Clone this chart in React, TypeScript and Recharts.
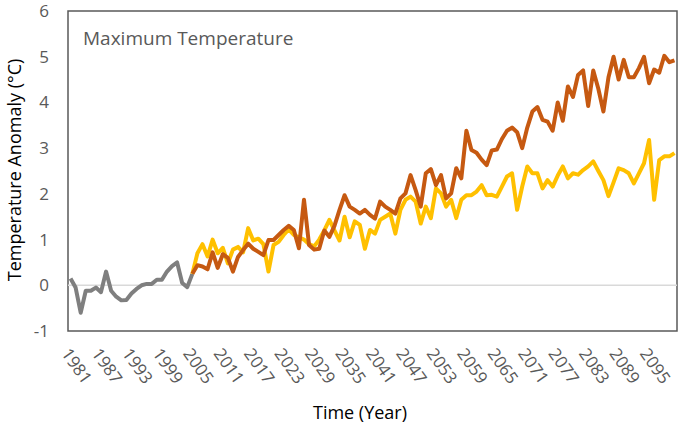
import React from "react";
import { LineChart, Line, XAxis, YAxis, ReferenceLine, ReferenceArea } from "recharts";

// ─── Data ────────────────────────────────────────────────────────────────────

const HIST_START = 1981;
const PROJ_START = 2005;

// observed / historical 1981–2005
const historical = [
  0.15, -0.05, -0.6, -0.12, -0.12, -0.05, -0.15, 0.3, -0.12, -0.25,
  -0.33, -0.32, -0.18, -0.08, 0.0, 0.03, 0.03, 0.12, 0.12, 0.3,
  0.42, 0.5, 0.05, -0.04, 0.25,
];

// high-emission projection 2005–2100 (dark orange)
const highScenario = [
  0.25, 0.44, 0.41, 0.35, 0.72, 0.38, 0.68, 0.6, 0.3, 0.62,
  0.77, 0.91, 0.8, 0.73, 0.66, 0.99, 0.99, 1.1, 1.21, 1.3,
  1.21, 0.81, 1.87, 0.88, 0.78, 0.8, 1.2, 1.06, 1.3, 1.65,
  1.97, 1.72, 1.65, 1.57, 1.65, 1.54, 1.46, 1.83, 1.72, 1.65,
  1.57, 1.9, 2.01, 2.41, 2.08, 1.72, 2.45, 2.54, 2.19, 2.41,
  1.9, 2.01, 2.56, 2.34, 3.38, 2.96, 2.9, 2.75, 2.63, 2.95,
  2.97, 3.2, 3.38, 3.45, 3.35, 3.0, 3.45, 3.8, 3.9, 3.62,
  3.58, 3.38, 4.0, 3.6, 4.35, 4.12, 4.6, 4.7, 3.92, 4.7,
  4.3, 3.8, 4.55, 5.0, 4.5, 4.93, 4.55, 4.55, 4.75, 5.0,
  4.42, 4.72, 4.65, 5.02, 4.88, 4.92,
];

// lower-emission projection 2005–2100 (yellow)
const lowScenario = [
  0.25, 0.7, 0.9, 0.63, 1.0, 0.7, 0.82, 0.48, 0.78, 0.84,
  0.72, 1.25, 0.98, 1.02, 0.9, 0.3, 0.88, 0.95, 1.1, 1.22,
  1.1, 1.05, 1.0, 0.9, 0.85, 1.0, 1.2, 1.43, 1.2, 0.98,
  1.5, 1.05, 1.4, 1.32, 0.8, 1.21, 1.13, 1.43, 1.5, 1.57,
  1.13, 1.65, 1.87, 1.94, 1.83, 1.35, 1.72, 1.47, 2.12, 2.01,
  1.72, 1.87, 1.47, 1.87, 1.97, 1.97, 2.05, 2.19, 1.97, 1.98,
  1.94, 2.16, 2.38, 2.45, 1.65, 2.16, 2.6, 2.45, 2.45, 2.12,
  2.3, 2.16, 2.4, 2.6, 2.34, 2.45, 2.42, 2.52, 2.6, 2.71,
  2.5, 2.3, 1.95, 2.25, 2.56, 2.52, 2.45, 2.23, 2.45, 2.67,
  3.18, 1.87, 2.74, 2.82, 2.82, 2.89,
];

const yearTicks = [
  1981, 1987, 1993, 1999, 2005, 2011, 2017, 2023, 2029, 2035,
  2041, 2047, 2053, 2059, 2065, 2071, 2077, 2083, 2089, 2095,
];
const yTicks = [-1, 0, 1, 2, 3, 4, 5, 6];

const data = Array.from({ length: 2100 - HIST_START + 1 }, (_, i) => {
  const year = HIST_START + i;
  const p = year - PROJ_START;
  return {
    year,
    hist: i < historical.length ? historical[i] : null,
    high: p >= 0 ? highScenario[p] : null,
    low: p >= 0 ? lowScenario[p] : null,
  };
});

const FONT = "'Open Sans', 'Noto Sans', sans-serif";
const TEXT = "#595959";

function YearTick({ x, y, payload }: any) {
  return (
    <g transform={`translate(${x - 5},${y + 19}) rotate(55)`}>
      <text x={0} y={0} dy="0.35em" textAnchor="start" fontSize={17} fill={TEXT} fontFamily={FONT}>
        {payload.value}
      </text>
    </g>
  );
}

export default function App() {
  return (
    <div style={{ position: "absolute", left: 0, top: 0, background: "#fff" }}>
      <LineChart
        width={685}
        height={433}
        data={data}
        margin={{ top: 11, right: 8, left: 0, bottom: 0 }}
      >
        <XAxis
          dataKey="year"
          type="number"
          domain={[1980.5, 2100.5]}
          ticks={yearTicks}
          interval={0}
          tick={<YearTick />}
          tickLine={false}
          axisLine={false}
          tickSize={0}
          tickMargin={0}
          height={102}
        />
        <YAxis
          domain={[-1, 6]}
          ticks={yTicks}
          interval={0}
          width={68}
          tickLine={false}
          axisLine={false}
          tickSize={6}
          tickMargin={13}
          tick={{ fontSize: 17, fill: TEXT, fontFamily: FONT }}
        />
        <ReferenceLine y={0} stroke="#d9d9d9" strokeWidth={1.5} />
        <Line
          dataKey="hist"
          stroke="#7f7f7f"
          strokeWidth={4}
          dot={false}
          strokeLinejoin="round"
          isAnimationActive={false}
        />
        <Line
          dataKey="low"
          stroke="#ffc000"
          strokeWidth={4}
          dot={false}
          strokeLinejoin="round"
          isAnimationActive={false}
        />
        <Line
          dataKey="high"
          stroke="#c65911"
          strokeWidth={4}
          dot={false}
          strokeLinejoin="round"
          isAnimationActive={false}
        />
        <ReferenceArea
          x1={1980.5}
          x2={2100.5}
          y1={-1}
          y2={6}
          fill="none"
          stroke="#595959"
          strokeWidth={1.5}
        />
        <text x={83} y={45} fontSize={19} fill={TEXT} fontFamily={FONT}>
          Maximum Temperature
        </text>
        <text
          transform="translate(21,170) rotate(-90)"
          textAnchor="middle"
          fontSize={18}
          fill="#000"
          fontFamily={FONT}
        >
          Temperature Anomaly (°C)
        </text>
        <text x={360} y={419} textAnchor="middle" fontSize={18} fill="#000" fontFamily={FONT}>
          Time (Year)
        </text>
      </LineChart>
    </div>
  );
}
